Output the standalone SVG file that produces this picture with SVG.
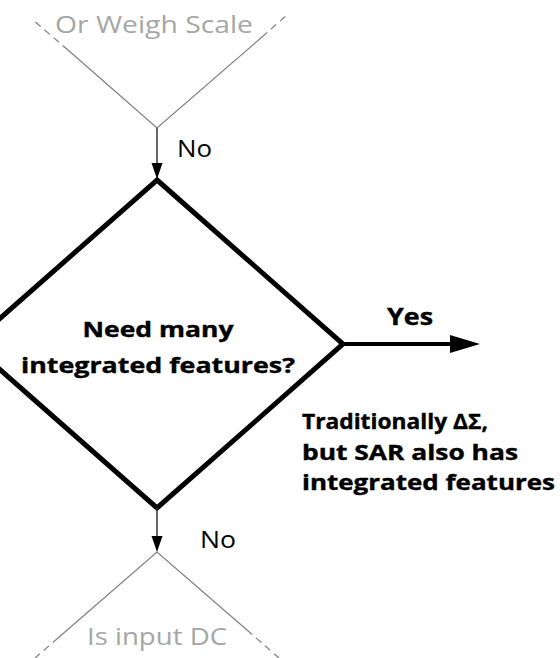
<svg xmlns="http://www.w3.org/2000/svg" width="560" height="658" viewBox="0 0 560 658">
<defs>
<style>
.bg{fill:#ffffff}
.ghost{fill:none;stroke:#7f7f7f;stroke-width:1.2}
.ghost-d{fill:none;stroke:#7f7f7f;stroke-width:1.2;stroke-dasharray:7 5}
.ghost-t{font-family:"Open Sans","DejaVu Sans",sans-serif;font-size:24px;fill:#a6a6a6}
.diamond{fill:#ffffff;stroke:#000000;stroke-width:5;stroke-linejoin:miter}
.lbl{font-family:"Open Sans","DejaVu Sans",sans-serif;font-size:24px;fill:#000000}
.bold{font-family:"Open Sans","DejaVu Sans",sans-serif;font-size:22px;font-weight:bold;fill:#000000;stroke:#000000;stroke-width:0.4}
.conn{stroke:#333333;stroke-width:1.5;fill:none}
.thick{stroke:#000000;stroke-width:4;fill:none}
</style>
</defs>
<rect class="bg" x="0" y="0" width="560" height="658"/>

<g id="node-weigh-scale">
<path class="ghost" d="M68,50 L157,128 L262,37"/>
<path class="ghost-d" d="M68,50 L33,20"/>
<path class="ghost-d" d="M262,37 L288,14"/>
<text class="ghost-t" x="55" y="33" textLength="198" lengthAdjust="spacingAndGlyphs">Or Weigh Scale</text>
</g>

<g id="node-integrated">
<polygon class="diamond" points="157,180 343,344 157,508 -29,344"/>
<text class="bold" x="82.5" y="337" textLength="151" lengthAdjust="spacingAndGlyphs">Need many</text>
<text class="bold" x="21" y="373" textLength="274" lengthAdjust="spacingAndGlyphs">integrated features?</text>
</g>

<g id="node-input-dc">
<path class="ghost" d="M58,638 L157,552 L247,630"/>
<path class="ghost-d" d="M58,638 L35,658"/>
<path class="ghost-d" d="M247,630 L279,658"/>
<text class="ghost-t" x="87" y="645" textLength="140" lengthAdjust="spacingAndGlyphs">Is input DC</text>
</g>

<g id="note-traditionally">
<text class="bold" x="302" y="429" textLength="186" lengthAdjust="spacingAndGlyphs">Traditionally ΔΣ,</text>
<text class="bold" x="302" y="460" textLength="216" lengthAdjust="spacingAndGlyphs">but SAR also has</text>
<text class="bold" x="302" y="490" textLength="253" lengthAdjust="spacingAndGlyphs">integrated features</text>
</g>

<g id="connectors">
<line class="conn" x1="157" y1="128" x2="157" y2="165"/>
<polygon points="151.5,163 162.5,163 157,179" fill="#000000"/>
<text class="lbl" x="177" y="157" textLength="35" lengthAdjust="spacingAndGlyphs">No</text>

<line class="conn" x1="157" y1="508" x2="157" y2="538"/>
<polygon points="151.5,536 162.5,536 157,552" fill="#000000"/>
<text class="lbl" x="200" y="548" textLength="36" lengthAdjust="spacingAndGlyphs">No</text>

<line class="thick" x1="343" y1="344" x2="452" y2="344"/>
<polygon points="450,335 480,344 450,353" fill="#000000"/>
<text class="bold" x="387" y="325" style="font-size:23px" textLength="46" lengthAdjust="spacingAndGlyphs">Yes</text>
</g>
</svg>
